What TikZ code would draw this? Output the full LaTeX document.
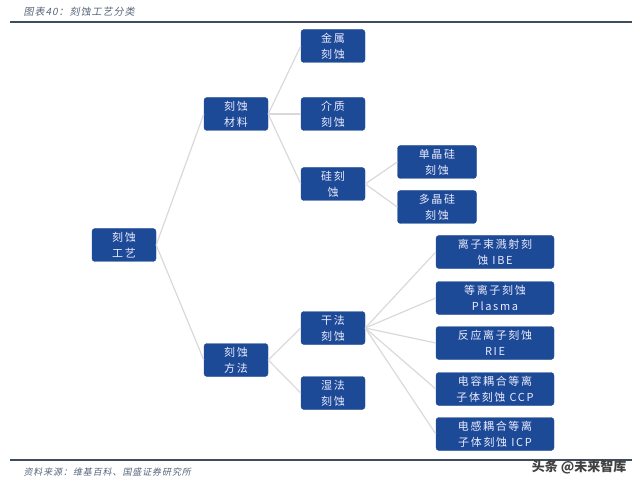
\documentclass[tikz,border=0pt]{standalone}
\usepackage{fontspec}
\setmainfont{Noto Sans CJK SC}
\newfontfamily\cjkit{Noto Sans CJK SC}[FakeSlant=0.2, LetterSpace=10]
\newfontfamily\boxfont{Noto Sans CJK SC}[LetterSpace=15]
\usepackage{tikz}
\usetikzlibrary{positioning}

\definecolor{boxblue}{HTML}{1D4A96}
\definecolor{rulegray}{HTML}{3E4C5C}
\definecolor{capgray}{HTML}{55657A}

\tikzset{
  box/.style={draw=boxblue, fill=boxblue, rounded corners=3pt, text=white!92!blue,
    align=center, inner sep=0pt, minimum width=64pt, minimum height=33pt,
    font=\boxfont\fontsize{11}{16}\selectfont},
  widebox/.style={box, minimum width=118pt},
  link/.style={gray!30, line width=1.2pt}
}

\begin{document}
\begin{tikzpicture}[x=1pt,y=-1pt]
\useasboundingbox (0,0) rectangle (640,489);

% Caption and rules
\node[anchor=west, text=capgray, font=\cjkit\fontsize{10}{12}\selectfont] (title) at (20,12) {图表40：刻蚀工艺分类};
\draw[rulegray, line width=1.2pt] (10,22) -- (632,22);
\draw[rulegray, line width=1.2pt] (10,460) -- (632,460);
\node[anchor=west, text=capgray, font=\cjkit\fontsize{9}{11}\selectfont] (source) at (20,472) {资料来源：维基百科、国盛证券研究所};

% Boxes
\node[box] (gy) at (124,245) {刻蚀\\工艺};
\node[box] (cl) at (236,114) {刻蚀\\材料};
\node[box] (ff) at (236,360) {刻蚀\\方法};

\node[box] (js) at (333,46) {金属\\刻蚀};
\node[box] (jz) at (333,114) {介质\\刻蚀};
\node[box] (gui) at (333,184) {硅刻\\蚀};
\node[box, minimum width=79pt] (dan) at (437,162) {单晶硅\\刻蚀};
\node[box, minimum width=79pt] (duo) at (437,207) {多晶硅\\刻蚀};

\node[box] (gf) at (333,328) {干法\\刻蚀};
\node[box] (sf) at (333,393) {湿法\\刻蚀};
\node[widebox] (ibe) at (495,252) {离子束溅射刻\\蚀 IBE};
\node[widebox] (plasma) at (495,298) {等离子刻蚀\\Plasma};
\node[widebox] (rie) at (495,343) {反应离子刻蚀\\RIE};
\node[widebox] (ccp) at (495,389) {电容耦合等离\\子体刻蚀 CCP};
\node[widebox] (icp) at (495,434) {电感耦合等离\\子体刻蚀 ICP};

% Links
\draw[link] (gy.east) -- (cl.west);
\draw[link] (gy.east) -- (ff.west);
\foreach \k in {js,jz,gui}
  \draw[link] (cl.east) -- (\k.west);
\foreach \k in {dan,duo}
  \draw[link] (gui.east) -- (\k.west);
\foreach \k in {gf,sf}
  \draw[link] (ff.east) -- (\k.west);
\foreach \k in {ibe,plasma,rie,ccp,icp}
  \draw[link] (gf.east) -- (\k.west);

% Watermark
\node[anchor=east, text=black!75, font=\bfseries\fontsize{13}{15}\selectfont] (mark) at (630,467) {头条 @未来智库};

\end{tikzpicture}
\end{document}
